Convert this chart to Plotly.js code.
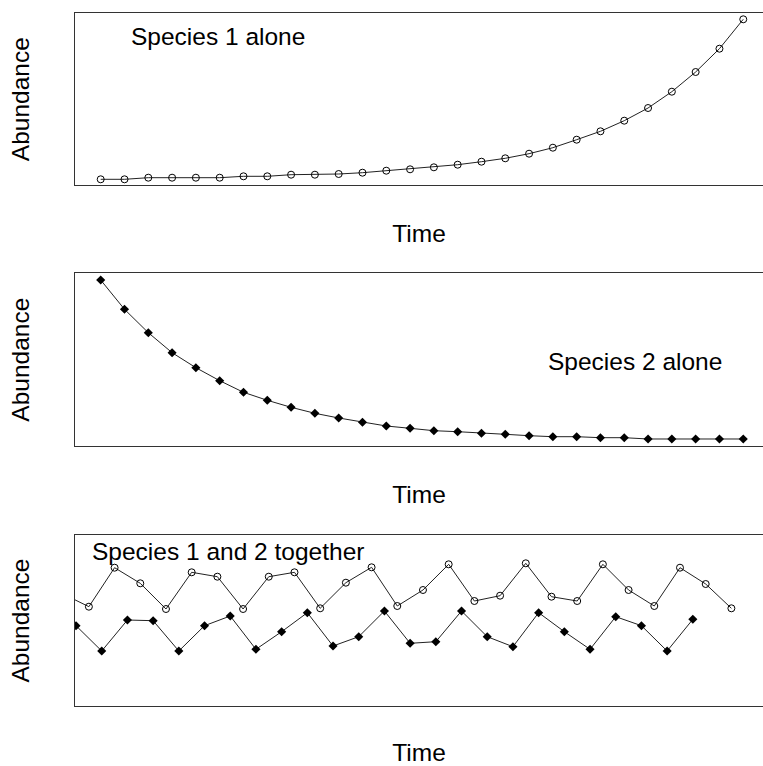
<!DOCTYPE html>
<html>
<head>
<meta charset="utf-8">
<script src="https://cdn.plot.ly/plotly-3.0.1.min.js"></script>
<style>
html,body{margin:0;padding:0;overflow:hidden;background:#fff;}
#chart{width:763px;height:766px;}
</style>
</head>
<body>
<div id="chart"></div>
<script>
// Panel 1: species 1 alone
const time1 = [1,2,3,4,5,6,7,8,9,10,11,12,13,14,15,16,17,18,19,20,21,22,23,24,25,26,27,28];
const species1Alone = [5.7,5.7,7.3,7.3,7.3,7.3,8.7,8.7,10.3,10.3,11,12.3,14.3,15.7,17.7,20.3,23.3,26.7,31.3,37.3,45.3,53.7,64.3,77,93.3,113,136.3,165.7];
// Panel 2: species 2 alone
const time2 = [1,2,3,4,5,6,7,8,9,10,11,12,13,14,15,16,17,18,19,20,21,22,23,24,25,26,27,28];
const species2Alone = [166,136.7,113.3,93.3,78.3,65.3,53.7,45.7,38.7,32.7,28,23.7,20,17.7,15.3,14.3,12.7,11.7,10.3,9.3,9.3,8.3,8.3,7,7,7,7,7];
// Panel 3: together
const time3Sp1 = [0.5,1.5,2.5,3.5,4.5,5.5,6.5,7.5,8.5,9.5,10.5,11.5,12.5,13.5,14.5,15.5,16.5,17.5,18.5,19.5,20.5,21.5,22.5,23.5,24.5,25.5,26.5];
const species1Together = [112,99.3,138.3,122.7,97,133.7,129.3,97,129.3,133.7,97.7,123.3,138.7,100,116,141.7,105,110.3,142.7,109.3,105,141.7,116,100,138.3,122,97.7];
const time3Sp2 = [1,2,3,4,5,6,7,8,9,10,11,12,13,14,15,16,17,18,19,20,21,22,23,24,25];
const species2Together = [80.3,55,86,85.3,55,80.3,90,56.7,74.3,93.3,60,69.3,95,62.7,64.3,95,69.3,59.3,93.3,74.3,56.7,89.3,80.3,55,86.7];

const panelTitles = ["Species 1 alone", "Species 2 alone", "Species 1 and 2 together"];
const xLabel = "Time";
const yLabel = "Abundance";

const lineStyle = {color: "#222", width: 1};
const openMarker = {symbol: "circle-open", size: 7, color: "#000", line: {width: 1, color: "#000"}};
const filledMarker = {symbol: "diamond", size: 7, color: "#000", line: {width: 0}};

const traces = [
  {x: time1, y: species1Alone, xaxis: "x", yaxis: "y", mode: "lines+markers", line: lineStyle, marker: openMarker, name: "Species 1"},
  {x: time2, y: species2Alone, xaxis: "x2", yaxis: "y2", mode: "lines+markers", line: lineStyle, marker: filledMarker, name: "Species 2"},
  {x: time3Sp1, y: species1Together, xaxis: "x3", yaxis: "y3", mode: "lines+markers", line: lineStyle, marker: openMarker, name: "Species 1"},
  {x: time3Sp2, y: species2Together, xaxis: "x3", yaxis: "y3", mode: "lines+markers", line: lineStyle, marker: filledMarker, name: "Species 2"}
];

const font = {family: "Liberation Sans, Arial, sans-serif", size: 24.5, color: "#000"};
function xax(anchor, range) {
  return {anchor: anchor, range: range, showgrid: false, zeroline: false, showticklabels: false, ticks: "",
    showline: true, mirror: true, linecolor: "#333", linewidth: 1,
    title: {text: xLabel, font: font, standoff: 39}, automargin: false};
}
function yax(anchor, domain, range) {
  return {anchor: anchor, domain: domain, range: range, showgrid: false, zeroline: false, showticklabels: false, ticks: "",
    showline: true, mirror: false, linecolor: "#333", linewidth: 1,
    title: {text: yLabel, font: font, standoff: 37}, automargin: false};
}
const H = 766;
const layout = {
  width: 763, height: 766,
  margin: {l: 75, r: 0, t: 0, b: 0},
  paper_bgcolor: "#fff", plot_bgcolor: "#fff",
  showlegend: false,
  font: font,
  xaxis: xax("y", [-0.08, 28.83]),
  xaxis2: xax("y2", [-0.08, 28.83]),
  xaxis3: xax("y3", [0.96, 27.73]),
  yaxis: yax("x", [1 - 185/H, 1 - 13.3/H], [0, 171.7]),
  yaxis2: yax("x2", [1 - 446/H, 1 - 273.3/H], [0, 172.7]),
  yaxis3: yax("x3", [1 - 706/H, 1 - 535/H], [0, 171]),
  annotations: [
    {text: panelTitles[0], xref: "paper", yref: "paper", x: (218-75)/688, y: 1 - 37/H, xanchor: "center", yanchor: "middle", showarrow: false, font: font},
    {text: panelTitles[1], xref: "paper", yref: "paper", x: (635-75)/688, y: 1 - 361/H, xanchor: "center", yanchor: "middle", showarrow: false, font: font},
    {text: panelTitles[2], xref: "paper", yref: "paper", x: (228-75)/688, y: 1 - 551/H, xanchor: "center", yanchor: "middle", showarrow: false, font: font}
  ]
};
Plotly.newPlot("chart", traces, layout, {staticPlot: true, displayModeBar: false});
</script>
</body>
</html>
